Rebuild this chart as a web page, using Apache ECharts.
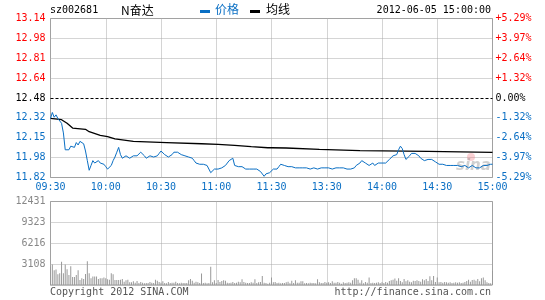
<!DOCTYPE html>
<html>
<head>
<meta charset="utf-8">
<script src="https://cdn.jsdelivr.net/npm/echarts@6/dist/echarts.min.js"></script>
<style>html,body{margin:0;padding:0;background:#fff;}#c{width:545px;height:300px;}</style>
</head>
<body>
<div id="c"></div>
<script>
// ---- data ----
var stockCode = 'sz002681';
var stockName = 'N奋达';
var dateText = '2012-06-05 15:00:00';
var prevClose = 12.48;
var priceMin = 11.82;
var priceStep = 0.165;
var timeLabels = ['09:30','10:00','10:30','11:00','11:30','13:30','14:00','14:30','15:00'];
var priceLabels = ['11.82','11.98','12.15','12.32','12.48','12.64','12.81','12.98','13.14'];
var pctLabels = ['-5.29%','-3.97%','-2.64%','-1.32%','0.00%','+1.32%','+2.64%','+3.97%','+5.29%'];
var volLabels = ['', '3108', '6216', '9323', '12431'];
var volMax = 12431;

// price per minute (0 = 09:30 ... 240 = 15:00)
var prices = [
12.31,12.36,12.32,12.34,12.31,12.32,12.27,12.19,12.05,12.05,
12.05,12.08,12.09,12.07,12.11,12.09,12.12,12.12,12.10,12.04,
11.96,11.88,11.92,11.96,11.94,11.95,11.96,11.94,11.95,11.93,
11.91,11.89,11.89,11.92,11.96,11.99,12.03,12.07,12.01,11.98,
11.98,12.00,11.99,11.98,11.98,12.00,11.99,12.00,12.01,12.03,
12.02,12.00,11.98,11.99,12.00,12.00,11.99,12.00,12.00,12.02,
12.04,12.03,12.01,12.00,11.99,12.00,12.01,12.03,12.04,12.03,
12.02,12.01,12.00,12.00,12.00,11.99,12.00,11.98,11.96,11.94,
11.93,11.93,11.93,11.93,11.92,11.92,11.91,11.86,11.87,11.89,
11.89,11.89,11.89,11.90,11.90,11.92,11.94,11.96,11.97,11.98,
11.92,11.91,11.91,11.91,11.91,11.90,11.89,11.89,11.89,11.89,
11.89,11.89,11.89,11.89,11.87,11.86,11.83,11.85,11.85,11.86,
11.87,11.89,11.89,11.89,11.91,11.93,11.94,11.92,11.91,11.91,
11.90,11.91,11.90,11.90,11.91,11.90,11.90,11.90,11.89,11.90,
11.90,11.89,11.90,11.90,11.90,11.89,11.89,11.90,11.90,11.90,
11.89,11.90,11.90,11.89,11.89,11.90,11.90,11.90,11.89,11.90,
11.89,11.89,11.90,11.89,11.89,11.90,11.92,11.93,11.94,11.96,
11.95,11.94,11.93,11.92,11.93,11.94,11.92,11.93,11.94,11.94,
11.94,11.94,11.94,11.95,11.97,11.98,12.00,12.00,12.01,12.05,
12.08,12.06,12.01,11.97,11.98,12.00,12.02,12.03,12.02,12.01,
12.00,11.98,11.97,11.96,11.97,11.97,11.96,11.97,11.96,11.95,
11.94,11.93,11.93,11.93,11.93,11.92,11.92,11.92,11.92,11.92,
11.92,11.92,11.91,11.91,11.92,11.92,11.91,11.90,11.91,11.92,
11.91,11.90,11.90,11.90,11.91,11.92,11.92,11.92,11.93,11.93,
11.93
];

// average line, read at these minutes
var avgTimes  = [0, 6, 9, 12, 19, 21, 27, 31, 35, 45, 63, 82, 91, 100, 109, 118, 120, 128, 146, 168, 205, 240];
var avgValues = [12.31, 12.30, 12.27, 12.23, 12.22, 12.20, 12.17, 12.16, 12.14, 12.12, 12.11, 12.10, 12.095, 12.087, 12.076, 12.067, 12.067, 12.065, 12.054, 12.043, 12.037, 12.029];

// volume per minute
var volumes = [
2700,3050,2200,2300,1600,1750,3450,1750,3050,2350,
1500,2800,1200,1200,1500,2200,750,1000,900,1650,
3550,1750,1000,1250,1250,1250,900,1000,1000,1100,
1000,850,800,1750,1600,750,750,750,800,900,
500,700,800,400,400,550,350,600,300,450,
350,250,300,300,450,350,300,800,650,450,
350,550,300,250,450,300,350,350,500,300,
250,350,300,300,300,700,900,650,350,500,
400,300,1700,300,350,250,300,2700,400,700,
300,750,450,600,700,650,350,300,350,450,
300,350,500,400,850,450,350,300,300,400,
350,850,300,400,450,1330,350,300,200,350,
1100,400,450,300,350,250,300,300,400,500,
250,650,300,700,350,350,550,550,250,300,
250,350,300,300,250,850,400,300,300,450,
350,400,300,550,350,350,450,350,200,400,
300,350,400,350,700,1000,1000,800,350,700,
250,450,350,1100,300,350,300,350,400,300,
400,300,450,350,600,700,800,950,650,1000,
600,400,900,550,700,500,400,650,600,700,
600,500,850,700,900,600,1300,700,1330,450,
1100,400,450,350,450,400,350,400,300,350,
400,350,400,300,350,450,600,800,500,750,
800,650,900,550,1000,1100,700,400,300,250,
2070
];

// ---- chart ----
var BLUE = '#0a6fc4', RED = '#ff0000', GRID = '#aaaaaa', FRAME = '#999999';
var MONO = '"DejaVu Sans Mono", "Liberation Mono", monospace';
function norm(p) { return (p - priceMin) / priceStep; }
function labelStyle(i, arr) {
  return i > 4 ? '{r|' + arr[i] + '}' : (i === 4 ? '{k|' + arr[i] + '}' : '{b|' + arr[i] + '}');
}
var richLab = {
  r: { color: RED, fontFamily: MONO, fontSize: 10 },
  k: { color: '#000', fontFamily: MONO, fontSize: 10 },
  b: { color: BLUE, fontFamily: MONO, fontSize: 10 }
};
var hSplitColors = [GRID, GRID, GRID, GRID, 'rgba(0,0,0,0)', GRID, GRID, GRID, GRID];

var chart = echarts.init(document.getElementById('c'), null, { renderer: 'canvas' });
chart.setOption({
  animation: false,
  backgroundColor: '#fff',
  grid: [
    { left: 50.5, right: 52.5, top: 18.5, height: 159, show: true, borderColor: FRAME, borderWidth: 1, backgroundColor: 'transparent' },
    { left: 50.5, right: 52.5, top: 201.5, height: 83.5, show: true, borderColor: FRAME, borderWidth: 1, backgroundColor: 'transparent' }
  ],
  xAxis: [
    { type: 'value', gridIndex: 0, min: 0, max: 240, interval: 30,
      axisLine: { show: false }, axisTick: { show: false },
      axisLabel: { margin: 5, color: BLUE, fontFamily: MONO, fontSize: 10,
        formatter: function (v) { return timeLabels[Math.round(v / 30)]; } },
      splitLine: { show: true, lineStyle: { type: 'dotted', color: GRID, width: 1 } } },
    { type: 'value', gridIndex: 1, min: 0, max: 240, interval: 30,
      axisLine: { show: false }, axisTick: { show: false }, axisLabel: { show: false },
      splitLine: { show: true, lineStyle: { type: 'dotted', color: GRID, width: 1 } } }
  ],
  yAxis: [
    { type: 'value', gridIndex: 0, min: 0, max: 8, interval: 1, position: 'left',
      axisLine: { show: false }, axisTick: { show: false },
      axisLabel: { margin: 5, rich: richLab, formatter: function (v, i) { return labelStyle(Math.round(v), priceLabels); } },
      splitLine: { show: true, lineStyle: { type: 'dotted', color: hSplitColors, width: 1 } } },
    { type: 'value', gridIndex: 0, min: 0, max: 8, interval: 1, position: 'right',
      axisLine: { show: false }, axisTick: { show: false },
      axisLabel: { margin: 3, rich: richLab, formatter: function (v, i) { return labelStyle(Math.round(v), pctLabels); } },
      splitLine: { show: false } },
    { type: 'value', gridIndex: 1, min: 0, max: volMax, interval: volMax / 4, position: 'left',
      axisLine: { show: false }, axisTick: { show: false },
      axisLabel: { margin: 5, color: '#888', fontFamily: MONO, fontSize: 10,
        formatter: function (v) { return volLabels[Math.round(v / (volMax / 4))]; } },
      splitLine: { show: true, lineStyle: { type: 'dotted', color: GRID, width: 1 } } }
  ],
  series: [
    { name: '均线', type: 'line', xAxisIndex: 0, yAxisIndex: 0, symbol: 'none', silent: true,
      lineStyle: { color: '#000', width: 1.3 },
      data: avgTimes.map(function (t, i) { return [t, norm(avgValues[i])]; }) },
    { name: '价格', type: 'line', xAxisIndex: 0, yAxisIndex: 0, symbol: 'none', silent: true,
      lineStyle: { color: BLUE, width: 1 },
      data: prices.map(function (p, i) { return [i, norm(p)]; }),
      markLine: { silent: true, symbol: 'none', label: { show: false },
        lineStyle: { color: '#000', type: [3, 2], width: 1 },
        data: [{ yAxis: norm(prevClose) }] } },
    { name: '成交量', type: 'bar', xAxisIndex: 1, yAxisIndex: 2, barWidth: 1, silent: true,
      itemStyle: { color: '#999' },
      data: volumes.map(function (v, i) { return [i, v]; }) }
  ],
  graphic: [
    { type: 'text', left: 50, top: 5, style: { text: stockCode, fill: '#000', font: '10px ' + MONO } },
    { type: 'text', left: 121, top: 4, style: { text: stockName, fill: '#000', font: '12px "Noto Sans CJK SC", sans-serif' } },
    { type: 'rect', shape: { x: 200, y: 10, width: 10, height: 3 }, style: { fill: BLUE } },
    { type: 'text', left: 215, top: 3, style: { text: '价格', fill: BLUE, font: '12px "Noto Sans CJK SC", sans-serif' } },
    { type: 'rect', shape: { x: 250, y: 10, width: 10, height: 3 }, style: { fill: '#000' } },
    { type: 'text', left: 266, top: 3, style: { text: '均线', fill: '#000', font: '12px "Noto Sans CJK SC", sans-serif' } },
    { type: 'text', right: 54, top: 5, style: { text: dateText, fill: '#000', font: '10px ' + MONO } },
    { type: 'text', left: 50, top: 287, style: { text: 'Copyright 2012 SINA.COM', fill: '#555', font: '10px ' + MONO } },
    { type: 'text', right: 54, top: 287, style: { text: 'http://finance.sina.com.cn', fill: '#555', font: '10px ' + MONO } },
    { type: 'circle', shape: { cx: 471, cy: 157, r: 4 }, style: { fill: 'rgba(240,120,130,0.35)' }, z: 1 },
    { type: 'text', left: 456, top: 159, style: { text: 'sina', fill: 'rgba(120,120,120,0.35)', font: 'italic bold 15px "DejaVu Sans", sans-serif' }, z: 1 }
  ]
});
</script>
</body>
</html>
